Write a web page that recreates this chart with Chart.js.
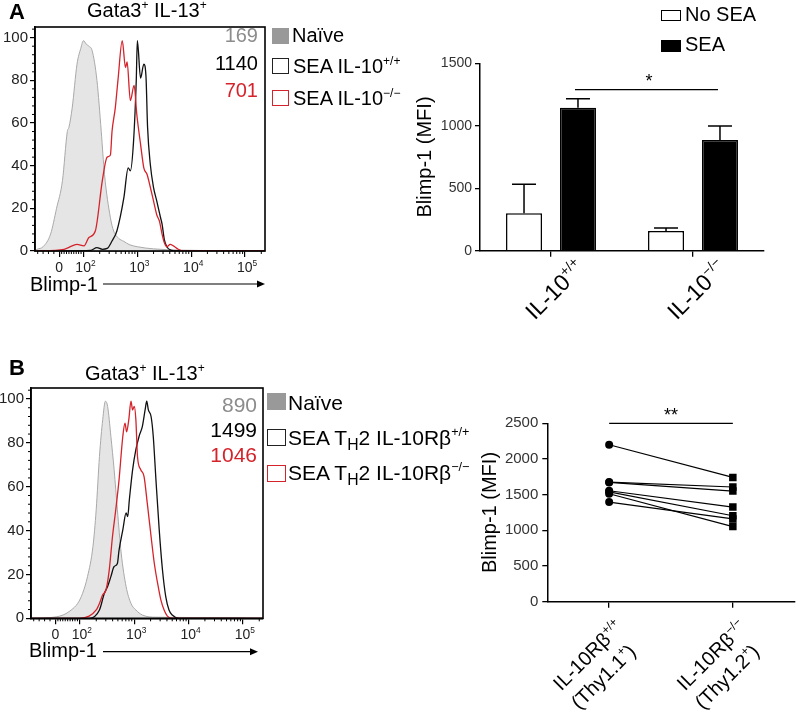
<!DOCTYPE html>
<html><head><meta charset="utf-8">
<script src="https://cdn.jsdelivr.net/npm/chart.js@4"></script>
<style>
html,body{margin:0;padding:0;background:#fff}
body{width:800px;height:714px;position:relative;overflow:hidden;font-family:"Liberation Sans",Arial,sans-serif}
canvas{position:absolute}
.t{position:absolute;white-space:nowrap;line-height:1;font-family:"Liberation Sans",Arial,sans-serif;color:#000}
.sp{font-size:0.6em;position:relative;top:-0.7em}
.sb{font-size:0.75em;position:relative;top:0.3em}
.box{position:absolute;box-sizing:border-box}
</style></head>
<body>
<canvas id="histA" width="275" height="300" style="left:0;top:0"></canvas>
<canvas id="barA" width="400" height="330" style="left:400px;top:0"></canvas>
<canvas id="histB" width="275" height="300" style="left:0;top:370px"></canvas>
<canvas id="dotB" width="370" height="344" style="left:430px;top:370px"></canvas>

<!-- Panel A texts -->
<div class="t" style="left:9px;top:1px;font-size:22px;font-weight:bold">A</div>
<div class="t" style="left:87px;top:0px;font-size:20px">Gata3<span class="sp">+</span> IL-13<span class="sp">+</span></div>
<div class="t" style="right:542px;top:25px;font-size:20px;color:#8c8c8c">169</div>
<div class="t" style="right:542px;top:53px;font-size:20px">1140</div>
<div class="t" style="right:542px;top:80px;font-size:20px;color:#d5232b">701</div>
<div class="box" style="left:272px;top:28px;width:17px;height:16px;background:#999"></div>
<div class="box" style="left:272px;top:58px;width:17px;height:16px;border:1.5px solid #222"></div>
<div class="box" style="left:272px;top:90px;width:17px;height:16px;border:1.5px solid #d5232b"></div>
<div class="t" style="left:292px;top:25px;font-size:20px">Naïve</div>
<div class="t" style="left:293px;top:56px;font-size:20px">SEA IL-10<span class="sp">+/+</span></div>
<div class="t" style="left:293px;top:88px;font-size:20px">SEA IL-10<span class="sp">−/−</span></div>
<div class="t" style="left:30px;top:274px;font-size:20px">Blimp-1</div>
<div class="box" style="left:661px;top:10px;width:20px;height:11px;border:1.3px solid #000"></div>
<div class="box" style="left:661px;top:40px;width:20px;height:12px;background:#000"></div>
<div class="t" style="left:685px;top:4px;font-size:20px">No SEA</div>
<div class="t" style="left:685px;top:34px;font-size:20px">SEA</div>

<!-- Panel B texts -->
<div class="t" style="left:9px;top:357px;font-size:22px;font-weight:bold">B</div>
<div class="t" style="left:85px;top:363px;font-size:20px">Gata3<span class="sp">+</span> IL-13<span class="sp">+</span></div>
<div class="t" style="right:543px;top:394px;font-size:21px;color:#8c8c8c">890</div>
<div class="t" style="right:543px;top:419px;font-size:21px">1499</div>
<div class="t" style="right:543px;top:444px;font-size:21px;color:#d5232b">1046</div>
<div class="box" style="left:267px;top:393px;width:19px;height:17px;background:#999"></div>
<div class="box" style="left:267px;top:429px;width:19px;height:17px;border:1.5px solid #222"></div>
<div class="box" style="left:267px;top:465px;width:19px;height:17px;border:1.5px solid #d5232b"></div>
<div class="t" style="left:288px;top:392px;font-size:21px">Naïve</div>
<div class="t" style="left:288px;top:427px;font-size:21px">SEA T<span class="sb">H</span>2 IL-10Rβ<span class="sp">+/+</span></div>
<div class="t" style="left:288px;top:462px;font-size:21px">SEA T<span class="sb">H</span>2 IL-10Rβ<span class="sp">−/−</span></div>
<div class="t" style="left:29px;top:640px;font-size:20px">Blimp-1</div>

<script>
// ================= DATA =================
// Histogram x axis (biexponential display, in decades)
const histTickValues = [1.55, 2, 3, 4, 5];
const histTickLabels = [['0', ''], ['10', '2'], ['10', '3'], ['10', '4'], ['10', '5']];
const histYMax = 105;

// Panel A histograms (x: decades, y: % of max)
const naiveA_x = [1.11,1.14,1.25,1.39,1.50,1.61,1.70,1.73,1.79,1.88,1.95,2.00,2.05,2.10,2.16,2.25,2.33,2.39,2.50,2.56,2.65,2.75,2.85,3.00,3.30,3.80,4.50,5.37];
const naiveA_y = [0.3,0.8,2,8,20,33,56,58,67,87.6,95,98.6,97,96,94,80,56,36,15.6,9.4,6,4.5,3,2,1,0.4,0.2,0];
const il10wtA_x = [1.11,2.13,2.25,2.35,2.44,2.53,2.62,2.75,2.83,2.87,2.93,2.98,3.00,3.06,3.12,3.16,3.19,3.24,3.30,3.36,3.43,3.46,3.50,3.55,3.64,3.73,5.37];
const il10wtA_y = [0,0.3,1.6,0.8,1.2,4.7,9.4,25,39,37.6,51.6,80,98.6,81,87.6,82,58,40.8,29.8,23.5,15.7,12.5,5.5,1.9,0.3,0,0];
const il10koA_x = [1.11,1.64,1.79,1.88,2.01,2.10,2.22,2.35,2.44,2.50,2.53,2.59,2.64,2.72,2.78,2.81,2.87,2.94,2.99,3.06,3.12,3.18,3.24,3.30,3.36,3.41,3.46,3.50,3.55,3.61,3.67,3.76,3.86,5.37];
const il10koA_y = [0,0.8,2.4,3.1,2.4,6.3,9.4,33,44,45,56,67,80,98.6,86,88.6,70.5,77.6,64,50,39,36,30,23.5,17,14,7.8,4,2,3.1,2.4,0.8,0,0];

// Panel B histograms
const naiveB_x = [1.10,1.44,1.69,1.84,1.96,2.05,2.14,2.24,2.30,2.36,2.42,2.47,2.51,2.57,2.63,2.69,2.76,2.85,2.94,3.03,3.15,3.40,4.80,5.37];
const naiveB_y = [0,0.3,1.5,3.8,6.8,11.4,19,32.7,49.5,73.8,90.6,99,96.6,83,67.7,49.5,29.7,14.5,6.8,3.8,1.5,0.5,0.3,0];
const il10rbWtB_x = [1.10,2.17,2.36,2.45,2.51,2.57,2.63,2.69,2.72,2.79,2.85,2.88,2.91,2.97,3.03,3.09,3.15,3.20,3.23,3.26,3.31,3.35,3.40,3.46,3.52,3.58,3.64,3.70,3.82,5.37];
const il10rbWtB_y = [0,0,3.8,11.4,14.5,19,23.6,25,31,40.3,48,46.4,54,67.7,76.9,83,87.5,95,99,95,92,83,63,40.3,22,9.9,3.8,1.5,0,0];
const il10rbKoB_x = [1.10,1.99,2.17,2.30,2.36,2.42,2.48,2.54,2.60,2.66,2.72,2.79,2.83,2.86,2.90,2.94,2.97,3.00,3.03,3.06,3.12,3.18,3.24,3.31,3.37,3.43,3.49,3.55,3.61,3.70,5.37];
const il10rbKoB_y = [0,0,1,3.8,6.8,10.7,12.9,22,37.3,49.5,63,83,89,85,90.6,99,95,96.6,90.6,73.8,67.7,64.7,52.5,37.3,25,16,8.4,3.8,1,0,0];

// Panel A bar chart (Blimp-1 MFI)
const barCategories = ['IL-10+/+', 'IL-10-/-'];
const noSEA = [300, 158];
const noSEA_err = [232, 24];
const withSEA = [1145, 886];
const withSEA_err = [72, 112];
const barSigValue = 1290;

// Panel B paired plot (Blimp-1 MFI)
const pairCategories = ['IL-10Rβ+/+ (Thy1.1+)', 'IL-10Rβ-/- (Thy1.2+)'];
const wtThy11 = [2200, 1677, 1672, 1555, 1540, 1513, 1396];
const koThy12 = [1742, 1607, 1550, 1326, 1204, 1053, 1160];
const pairSigValue = 2500;

// ================= HELPERS =================
const RED = '#d5232b';
const FONT = '"Liberation Sans", Arial, sans-serif';
Chart.defaults.font.family = FONT;
Chart.defaults.color = '#222';

function pts(xs, ys) { return xs.map((x, i) => ({x: x, y: ys[i]})); }

function richWidth(ctx, parts, size) {
  let w = 0;
  parts.forEach(([t, k]) => {
    const s = k ? size * 0.6 : size;
    ctx.font = s + 'px ' + FONT;
    w += ctx.measureText(t).width;
  });
  return w;
}
function drawRich(ctx, parts, size, x, y) {
  let cx = x;
  parts.forEach(([t, k]) => {
    const s = k ? size * 0.6 : size;
    ctx.font = s + 'px ' + FONT;
    const dy = k === 'sup' ? -size * 0.42 : (k === 'sub' ? size * 0.2 : 0);
    ctx.fillText(t, cx, y + dy);
    cx += ctx.measureText(t).width;
  });
}

// Frame box + minor ticks + tick labels + axis arrow for histograms
const histDeco = {
  id: 'histDeco',
  afterDraw(chart) {
    const o = chart.options.plugins.histDeco;
    const {ctx, chartArea: a} = chart;
    const xs = chart.scales.x, ys = chart.scales.y;
    ctx.save();
    ctx.strokeStyle = '#000';
    ctx.lineWidth = 1.6;
    ctx.strokeRect(a.left, a.top, a.right - a.left, a.bottom - a.top);
    ctx.lineWidth = 1;
    ctx.beginPath();
    for (let v = 4; v < histYMax; v += 4) {
      if (v % 20 === 0) continue;
      const py = ys.getPixelForValue(v);
      ctx.moveTo(a.left - 3, py); ctx.lineTo(a.left, py);
    }
    const minors = [];
    for (let j = 1; j <= 4; j++) minors.push(1.55 - j * 0.1);
    for (let j = 1; j <= 9; j++) minors.push(1.55 + j * 0.045);
    for (let n = 2; n <= 5; n++) for (let k = 2; k <= 9; k++) minors.push(n + Math.log10(k));
    minors.forEach(v => {
      if (v <= xs.min || v >= xs.max) return;
      const px = xs.getPixelForValue(v);
      ctx.moveTo(px, a.bottom); ctx.lineTo(px, a.bottom + 3);
    });
    ctx.stroke();
    ctx.fillStyle = '#222';
    ctx.textAlign = 'left';
    histTickValues.forEach((v, i) => {
      const [base, exp] = histTickLabels[i];
      const parts = exp ? [[base, ''], [exp, 'sup']] : [[base, '']];
      const w = richWidth(ctx, parts, 14);
      drawRich(ctx, parts, 14, xs.getPixelForValue(v) - w / 2 + (exp ? 2 : 0), a.bottom + 21);
    });
    ctx.lineWidth = 1.2;
    ctx.beginPath();
    ctx.moveTo(o.arrowX1, o.arrowY); ctx.lineTo(o.arrowX2 - 6, o.arrowY);
    ctx.stroke();
    ctx.beginPath();
    ctx.moveTo(o.arrowX2, o.arrowY);
    ctx.lineTo(o.arrowX2 - 8, o.arrowY - 3.5);
    ctx.lineTo(o.arrowX2 - 8, o.arrowY + 3.5);
    ctx.closePath();
    ctx.fillStyle = '#000';
    ctx.fill();
    ctx.restore();
  }
};

function histConfig(naive, wt, ko, pad, yW, xH, deco) {
  return {
    type: 'line',
    data: {datasets: [
      {data: ko, borderColor: RED, borderWidth: 1.3, pointRadius: 0, fill: false, cubicInterpolationMode: 'monotone', order: 1},
      {data: wt, borderColor: '#111', borderWidth: 1.3, pointRadius: 0, fill: false, cubicInterpolationMode: 'monotone', order: 2},
      {data: naive, borderColor: '#a9a9a9', backgroundColor: '#e5e5e5', borderWidth: 1, pointRadius: 0, fill: 'origin', cubicInterpolationMode: 'monotone', order: 3}
    ]},
    options: {
      responsive: false, animation: false, events: [],
      layout: {padding: pad},
      plugins: {legend: {display: false}, tooltip: {enabled: false}, histDeco: deco},
      scales: {
        x: {
          type: 'linear', min: 1.1, max: 5.37,
          afterBuildTicks: s => { s.ticks = histTickValues.map(v => ({value: v})); },
          ticks: {display: false},
          grid: {drawOnChartArea: false, tickLength: 6, color: '#000', lineWidth: 1.2},
          border: {color: '#000', width: 1.6},
          afterFit: s => { s.height = xH; }
        },
        y: {
          min: 0, max: histYMax,
          ticks: {stepSize: 20, includeBounds: false, font: {size: 15}, color: '#222', padding: 2},
          grid: {drawOnChartArea: false, tickLength: 5, color: '#000', lineWidth: 1.2},
          border: {color: '#000', width: 1.6},
          afterFit: s => { s.width = yW; }
        }
      }
    },
    plugins: [histDeco]
  };
}

// Rotated category labels with superscripts
const rotLabels = {
  id: 'rotLabels',
  afterDraw(chart) {
    const o = chart.options.plugins.rotLabels;
    const ctx = chart.ctx, xs = chart.scales.x;
    ctx.save();
    ctx.fillStyle = '#000';
    ctx.textBaseline = 'alphabetic';
    o.labels.forEach((lines, i) => {
      const x = xs.getPixelForValue(i), y = xs.top;
      ctx.save();
      ctx.translate(x + o.dx, y + o.dy);
      ctx.rotate(-Math.PI / 4);
      lines.forEach((parts, li) => {
        const w = richWidth(ctx, parts, o.size);
        drawRich(ctx, parts, o.size, -w + li * o.shift, li * o.lineH);
      });
      ctx.restore();
    });
    ctx.restore();
  }
};

// Error bars and significance for bar chart
const barDeco = {
  id: 'barDeco',
  afterDatasetsDraw(chart) {
    const ctx = chart.ctx, ys = chart.scales.y;
    const errs = [noSEA_err, withSEA_err];
    const vals = [noSEA, withSEA];
    ctx.save();
    ctx.strokeStyle = '#000';
    ctx.lineWidth = 1.5;
    [0, 1].forEach(d => {
      chart.getDatasetMeta(d).data.forEach((bar, i) => {
        const top = ys.getPixelForValue(vals[d][i]);
        const et = ys.getPixelForValue(vals[d][i] + errs[d][i]);
        ctx.beginPath();
        ctx.moveTo(bar.x, top); ctx.lineTo(bar.x, et);
        ctx.moveTo(bar.x - 12, et); ctx.lineTo(bar.x + 12, et);
        ctx.stroke();
      });
    });
    const m = chart.getDatasetMeta(1).data;
    const sy = ys.getPixelForValue(barSigValue);
    ctx.lineWidth = 1.2;
    ctx.beginPath();
    ctx.moveTo(m[0].x - 3, sy); ctx.lineTo(m[1].x - 2, sy);
    ctx.stroke();
    ctx.fillStyle = '#000';
    ctx.font = '18px ' + FONT;
    ctx.textAlign = 'center';
    ctx.fillText('*', (m[0].x + m[1].x) / 2, sy - 3);
    ctx.restore();
  }
};

const pairDeco = {
  id: 'pairDeco',
  afterDatasetsDraw(chart) {
    const ctx = chart.ctx, xs = chart.scales.x, ys = chart.scales.y;
    const sy = ys.getPixelForValue(pairSigValue);
    const x0 = xs.getPixelForValue(0), x1 = xs.getPixelForValue(1);
    ctx.save();
    ctx.strokeStyle = '#000'; ctx.lineWidth = 1.2;
    ctx.beginPath(); ctx.moveTo(x0, sy); ctx.lineTo(x1, sy); ctx.stroke();
    ctx.fillStyle = '#000';
    ctx.font = '18px ' + FONT;
    ctx.textAlign = 'center';
    ctx.fillText('**', (x0 + x1) / 2, sy - 2);
    ctx.restore();
  }
};

const axisCommon = {
  grid: {drawOnChartArea: false, tickLength: 5, color: '#000', lineWidth: 1.3},
  border: {color: '#000', width: 1.5}
};

// ================= CHARTS =================
new Chart(document.getElementById('histA'), histConfig(
  pts(naiveA_x, naiveA_y), pts(il10wtA_x, il10wtA_y), pts(il10koA_x, il10koA_y),
  {top: 27, right: 10, left: 0, bottom: 0}, 35, 49,
  {arrowX1: 103, arrowX2: 265, arrowY: 284}
));

new Chart(document.getElementById('histB'), histConfig(
  pts(naiveB_x, naiveB_y), pts(il10rbWtB_x, il10rbWtB_y), pts(il10rbKoB_x, il10rbKoB_y),
  {top: 18, right: 12, left: 0, bottom: 0}, 31, 51.7,
  {arrowX1: 103, arrowX2: 258, arrowY: 281.7}
));

new Chart(document.getElementById('barA'), {
  type: 'bar',
  data: {
    labels: barCategories,
    datasets: [
      {label: 'No SEA', data: noSEA, backgroundColor: '#fff', borderColor: '#000', borderWidth: 1.5, categoryPercentage: 0.76, barPercentage: 0.667},
      {label: 'SEA', data: withSEA, backgroundColor: '#000', borderColor: '#000', borderWidth: 1.5, categoryPercentage: 0.76, barPercentage: 0.667}
    ]
  },
  options: {
    responsive: false, animation: false, events: [],
    layout: {padding: {top: 63.3, right: 36, left: 0, bottom: 0}},
    plugins: {
      legend: {display: false}, tooltip: {enabled: false},
      rotLabels: {
        size: 23, dx: 35, dy: 19, lineH: 0, shift: 0,
        labels: [[[['IL-10', ''], ['+/+', 'sup']]], [[['IL-10', ''], ['−/−', 'sup']]]]
      }
    },
    scales: {
      x: {
        ticks: {display: false},
        grid: {drawOnChartArea: false, offset: false, tickLength: 6, color: '#000', lineWidth: 1.3},
        border: {color: '#000', width: 1.5},
        afterFit: s => { s.height = 79.3; }
      },
      y: {
        min: 0, max: 1500,
        ticks: {stepSize: 500, font: {size: 14}, color: '#333', padding: 3, callback: v => String(v)},
        ...axisCommon,
        title: {display: true, text: 'Blimp-1 (MFI)', font: {size: 20}, color: '#000', padding: {top: 13, bottom: 0}},
        afterFit: s => { s.width = 80; }
      }
    }
  },
  plugins: [barDeco, rotLabels]
});

const pairSets = wtThy11.map((v, i) => ({
  data: [v, koThy12[i]],
  borderColor: '#000', borderWidth: 1.2,
  pointStyle: ['circle', 'rect'], pointRadius: [4, 5.3],
  pointBackgroundColor: '#000', pointBorderColor: '#000', pointBorderWidth: 0,
  fill: false
}));

new Chart(document.getElementById('dotB'), {
  type: 'line',
  data: {labels: pairCategories, datasets: pairSets},
  options: {
    responsive: false, animation: false, events: [],
    layout: {padding: {top: 53.3, right: 3, left: 0, bottom: 0}},
    plugins: {
      legend: {display: false}, tooltip: {enabled: false},
      rotLabels: {
        size: 20, dx: 15, dy: 27, lineH: 26, shift: -8,
        labels: [
          [[['IL-10Rβ', ''], ['+/+', 'sup']], [['(Thy1.1', ''], ['+', 'sup'], [')', '']]],
          [[['IL-10Rβ', ''], ['−/−', 'sup']], [['(Thy1.2', ''], ['+', 'sup'], [')', '']]]
        ]
      }
    },
    scales: {
      x: {
        offset: true,
        ticks: {display: false},
        grid: {drawOnChartArea: false, offset: false, tickLength: 6, color: '#000', lineWidth: 1.3},
        border: {color: '#000', width: 1.5},
        afterFit: s => { s.height = 112.3; }
      },
      y: {
        min: 0, max: 2500,
        ticks: {stepSize: 500, font: {size: 15}, color: '#333', padding: 4, callback: v => String(v)},
        ...axisCommon,
        title: {display: true, text: 'Blimp-1 (MFI)', font: {size: 20}, color: '#000', padding: {top: 48, bottom: 0}},
        afterFit: s => { s.width = 117.3; }
      }
    }
  },
  plugins: [pairDeco, rotLabels]
});
</script>
</body></html>
